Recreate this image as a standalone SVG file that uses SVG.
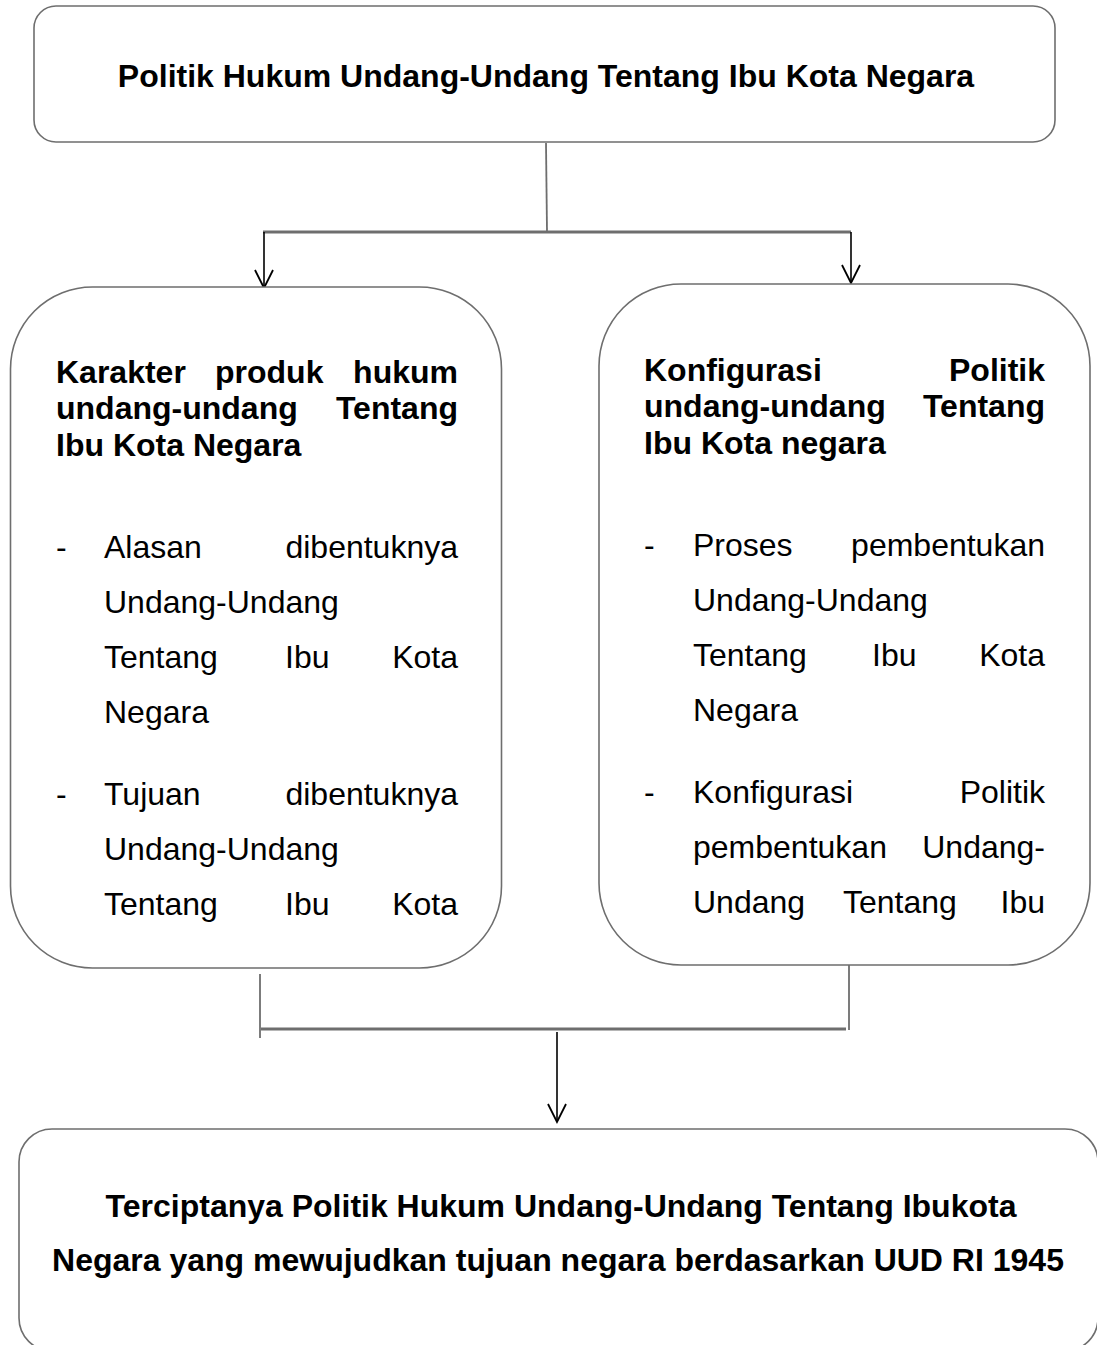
<svg xmlns="http://www.w3.org/2000/svg" width="1097" height="1345" viewBox="0 0 1097 1345">
<defs>
<style>
.box{fill:#fff;stroke:#6e6e6e;stroke-width:1.6}
.b{font-family:"Liberation Sans",Arial,sans-serif;font-weight:bold;font-size:32px;fill:#000}
.n{font-family:"Liberation Sans",Arial,sans-serif;font-size:32px;fill:#000}
.e{text-anchor:end}
.m{text-anchor:middle}
.gl{stroke:#6e6e6e;stroke-width:1.8;fill:none}
.gh{stroke:#6e6e6e;stroke-width:3;fill:none}
.ar{stroke:#000;stroke-width:1.6;fill:none;marker-end:url(#ah)}
</style>
<marker id="ah" markerUnits="userSpaceOnUse" viewBox="-20 -12 24 24" markerWidth="24" markerHeight="24" refX="0" refY="0" orient="auto">
<path d="M-18,-9 L0,0 L-18,9" fill="none" stroke="#000" stroke-width="1.8"/>
</marker>
</defs>
<rect width="1097" height="1345" fill="#fff"/>

<g id="connectors">
<line class="gl" x1="546" y1="143" x2="547" y2="232"/>
<line class="gh" x1="263" y1="232" x2="851" y2="232"/>
<line class="ar" x1="264" y1="232" x2="264" y2="288"/>
<line class="ar" x1="851" y1="232" x2="851" y2="283"/>
<line class="gl" x1="260" y1="974" x2="260" y2="1038"/>
<line class="gl" x1="849" y1="961" x2="849" y2="1030"/>
<line class="gh" x1="261" y1="1029" x2="846" y2="1029"/>
<line class="ar" x1="557" y1="1032" x2="557" y2="1122"/>
</g>

<g id="node-top">
<rect class="box" x="34" y="6" width="1021" height="136" rx="22" ry="22"/>
<text class="b m" x="546" y="87">Politik Hukum Undang-Undang Tentang Ibu Kota Negara</text>
</g>

<g id="node-left">
<rect class="box" x="10.5" y="287" width="491" height="681" rx="82" ry="82"/>
<text class="b" x="56" y="383">Karakter</text>
<text class="b" x="215" y="383">produk</text>
<text class="b e" x="458" y="383">hukum</text>
<text class="b" x="56" y="419">undang-undang</text>
<text class="b e" x="458" y="419">Tentang</text>
<text class="b" x="56" y="456">Ibu Kota Negara</text>
<text class="n" x="56" y="558">-</text>
<text class="n" x="104" y="558">Alasan</text>
<text class="n e" x="458" y="558">dibentuknya</text>
<text class="n" x="104" y="613">Undang-Undang</text>
<text class="n" x="104" y="668">Tentang</text>
<text class="n" x="285" y="668">Ibu</text>
<text class="n e" x="458" y="668">Kota</text>
<text class="n" x="104" y="723">Negara</text>
<text class="n" x="56" y="805">-</text>
<text class="n" x="104" y="805">Tujuan</text>
<text class="n e" x="458" y="805">dibentuknya</text>
<text class="n" x="104" y="860">Undang-Undang</text>
<text class="n" x="104" y="915">Tentang</text>
<text class="n" x="285" y="915">Ibu</text>
<text class="n e" x="458" y="915">Kota</text>
</g>

<g id="node-right">
<rect class="box" x="599" y="284" width="491" height="681" rx="82" ry="82"/>
<text class="b" x="644" y="381">Konfigurasi</text>
<text class="b e" x="1045" y="381">Politik</text>
<text class="b" x="644" y="417">undang-undang</text>
<text class="b e" x="1045" y="417">Tentang</text>
<text class="b" x="644" y="454">Ibu Kota negara</text>
<text class="n" x="644" y="556">-</text>
<text class="n" x="693" y="556">Proses</text>
<text class="n e" x="1045" y="556">pembentukan</text>
<text class="n" x="693" y="611">Undang-Undang</text>
<text class="n" x="693" y="666">Tentang</text>
<text class="n" x="872" y="666">Ibu</text>
<text class="n e" x="1045" y="666">Kota</text>
<text class="n" x="693" y="721">Negara</text>
<text class="n" x="644" y="803">-</text>
<text class="n" x="693" y="803">Konfigurasi</text>
<text class="n e" x="1045" y="803">Politik</text>
<text class="n" x="693" y="858">pembentukan</text>
<text class="n e" x="1045" y="858">Undang-</text>
<text class="n" x="693" y="913">Undang</text>
<text class="n" x="843" y="913">Tentang</text>
<text class="n e" x="1045" y="913">Ibu</text>
</g>

<g id="node-bottom">
<rect class="box" x="19" y="1129" width="1079" height="222" rx="33" ry="33"/>
<text class="b m" x="561" y="1217">Terciptanya Politik Hukum Undang-Undang Tentang Ibukota</text>
<text class="b m" x="558" y="1271">Negara yang mewujudkan tujuan negara berdasarkan UUD RI 1945</text>
</g>
</svg>
